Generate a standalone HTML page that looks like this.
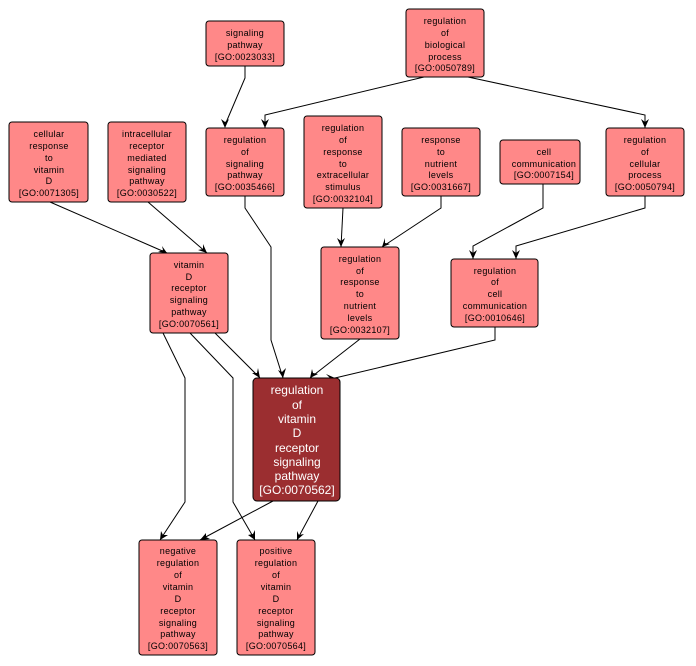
<!DOCTYPE html>
<html><head><meta charset="utf-8"><style>
body{margin:0;background:#fff;width:696px;height:666px;overflow:hidden}
svg{display:block}
text{font-family:"Liberation Sans",sans-serif;font-size:9px;fill:#000;text-anchor:middle;letter-spacing:0.3px}
.m text{font-size:12px;fill:#fff;letter-spacing:0}
rect{fill:#ff8888;stroke:#000;stroke-width:1}
path{fill:none;stroke:#000;stroke-width:1}
</style></head><body>
<svg width="696" height="666" viewBox="0 0 696 666">
<g>
<path d="M245,66 L245,78 L225,125"/>
<path d="M424,77 L265,115 L265,128"/>
<path d="M468,77 L645,115 L645,128"/>
<path d="M50,202 L167,253"/>
<path d="M148,202 L207,253"/>
<path d="M245,196 L245,208 L271,247 L271,340 L283,378"/>
<path d="M343,208 L341,247"/>
<path d="M441,196 L441,208 L382,247"/>
<path d="M543,184 L543,208 L473,246 L473,259"/>
<path d="M645,196 L645,208 L516,246 L516,259"/>
<path d="M163,333 L185,378 L185,502 L160,540"/>
<path d="M190,333 L233,378 L233,502 L255,540"/>
<path d="M215,333 L260,378"/>
<path d="M360,339 L310,378"/>
<path d="M495,327 L495,340 L335,378"/>
<path d="M273,501 L200,540"/>
<path d="M318,501 L297,540"/>
</g>
<g style="fill:#000">
<polygon points="225,128 221,119 225,122 229,119"/>
<polygon points="265,128 261,119 265,122 269,119"/>
<polygon points="645,128 641,119 645,122 649,119"/>
<polygon points="167,253 158,252 163,250 162,246"/>
<polygon points="207,253 198,250 203,249 203,244"/>
<polygon points="283,378 278,370 282,372 286,368"/>
<polygon points="341,247 337,238 341,241 345,238"/>
<polygon points="382,247 385,238 385,243 390,244"/>
<polygon points="473,259 469,250 473,253 477,250"/>
<polygon points="516,259 512,250 516,253 520,250"/>
<polygon points="160,540 161,531 163,535 168,535"/>
<polygon points="255,540 248,535 253,534 255,530"/>
<polygon points="260,378 252,373 257,373 258,368"/>
<polygon points="310,378 312,369 313,373 318,374"/>
<polygon points="335,378 327,382 330,378 326,374"/>
<polygon points="200,540 206,533 206,537 210,539"/>
<polygon points="297,540 297,531 299,535 304,534"/>
</g>
<g>
<rect x="206" y="21" width="78" height="45" rx="3"/><text x="245" y="36">signaling</text><text x="245" y="48">pathway</text><text x="245" y="60">[GO:0023033]</text>
<rect x="406" y="9" width="78" height="68" rx="3"/><text x="445" y="24">regulation</text><text x="445" y="36">of</text><text x="445" y="48">biological</text><text x="445" y="60">process</text><text x="445" y="71">[GO:0050789]</text>
<rect x="9" y="122" width="79" height="80" rx="3"/><text x="49" y="137">cellular</text><text x="49" y="149">response</text><text x="49" y="161">to</text><text x="49" y="173">vitamin</text><text x="49" y="184">D</text><text x="49" y="196">[GO:0071305]</text>
<rect x="108" y="122" width="78" height="80" rx="3"/><text x="147" y="137">intracellular</text><text x="147" y="149">receptor</text><text x="147" y="161">mediated</text><text x="147" y="173">signaling</text><text x="147" y="184">pathway</text><text x="147" y="196">[GO:0030522]</text>
<rect x="206" y="128" width="78" height="68" rx="3"/><text x="245" y="143">regulation</text><text x="245" y="155">of</text><text x="245" y="167">signaling</text><text x="245" y="178">pathway</text><text x="245" y="190">[GO:0035466]</text>
<rect x="304" y="116" width="78" height="92" rx="3"/><text x="343" y="131">regulation</text><text x="343" y="143">of</text><text x="343" y="155">response</text><text x="343" y="167">to</text><text x="343" y="178">extracellular</text><text x="343" y="190">stimulus</text><text x="343" y="202">[GO:0032104]</text>
<rect x="402" y="128" width="78" height="68" rx="3"/><text x="441" y="143">response</text><text x="441" y="155">to</text><text x="441" y="167">nutrient</text><text x="441" y="178">levels</text><text x="441" y="190">[GO:0031667]</text>
<rect x="500" y="140" width="80" height="44" rx="3"/><text x="544" y="155">cell</text><text x="544" y="167">communication</text><text x="544" y="178">[GO:0007154]</text>
<rect x="606" y="128" width="78" height="68" rx="3"/><text x="645" y="143">regulation</text><text x="645" y="155">of</text><text x="645" y="167">cellular</text><text x="645" y="178">process</text><text x="645" y="190">[GO:0050794]</text>
<rect x="150" y="253" width="78" height="80" rx="3"/><text x="189" y="268">vitamin</text><text x="189" y="280">D</text><text x="189" y="291">receptor</text><text x="189" y="303">signaling</text><text x="189" y="315">pathway</text><text x="189" y="327">[GO:0070561]</text>
<rect x="321" y="247" width="78" height="92" rx="3"/><text x="360" y="262">regulation</text><text x="360" y="274">of</text><text x="360" y="285">response</text><text x="360" y="297">to</text><text x="360" y="309">nutrient</text><text x="360" y="321">levels</text><text x="360" y="333">[GO:0032107]</text>
<rect x="451" y="259" width="87" height="68" rx="3"/><text x="495" y="274">regulation</text><text x="495" y="285">of</text><text x="495" y="297">cell</text><text x="495" y="309">communication</text><text x="495" y="321">[GO:0010646]</text>
<rect x="139" y="540" width="78" height="115" rx="3"/><text x="178" y="554">negative</text><text x="178" y="566">regulation</text><text x="178" y="578">of</text><text x="178" y="590">vitamin</text><text x="178" y="602">D</text><text x="178" y="614">receptor</text><text x="178" y="626">signaling</text><text x="178" y="637">pathway</text><text x="178" y="649">[GO:0070563]</text>
<rect x="237" y="540" width="78" height="115" rx="3"/><text x="276" y="554">positive</text><text x="276" y="566">regulation</text><text x="276" y="578">of</text><text x="276" y="590">vitamin</text><text x="276" y="602">D</text><text x="276" y="614">receptor</text><text x="276" y="626">signaling</text><text x="276" y="637">pathway</text><text x="276" y="649">[GO:0070564]</text>
</g>
<g class="m">
<rect x="253" y="378" width="87" height="123" rx="4" style="fill:#9b2e30"/>
<text x="297" y="394">regulation</text><text x="297" y="409">of</text><text x="297" y="423">vitamin</text><text x="297" y="437">D</text><text x="297" y="452">receptor</text><text x="297" y="466">signaling</text><text x="297" y="480">pathway</text><text x="297" y="494">[GO:0070562]</text>
</g>
</svg>
</body></html>
